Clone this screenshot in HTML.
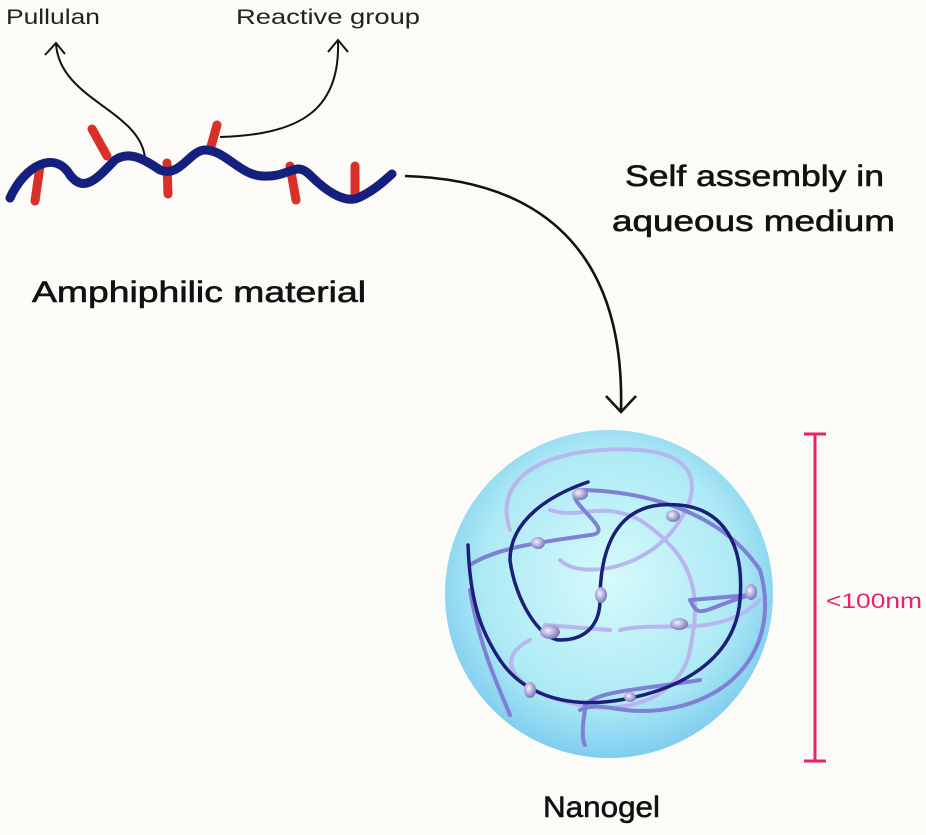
<!DOCTYPE html>
<html><head><style>
body{margin:0;background:#fcfbf7;}
svg{display:block;font-family:"Liberation Sans",sans-serif;}
.t{stroke-width:0.6;}
</style></head><body>
<svg width="926" height="835" viewBox="0 0 926 835">
<defs>
<radialGradient id="g" cx="0.5" cy="0.45" r="0.55">
<stop offset="0" stop-color="#d6fafc"/>
<stop offset="0.7" stop-color="#aeeaf5"/>
<stop offset="1" stop-color="#7fcdef"/>
</radialGradient>
<radialGradient id="b" cx="0.4" cy="0.4" r="0.6">
<stop offset="0" stop-color="#f4f2ff"/>
<stop offset="1" stop-color="#7d78b8"/>
</radialGradient>
</defs>
<rect width="926" height="835" fill="#fcfbf7"/>
<text x="6" y="24" font-size="21" fill="#222" textLength="94" lengthAdjust="spacingAndGlyphs">Pullulan</text>
<text x="236" y="24" font-size="21" fill="#222" textLength="184" lengthAdjust="spacingAndGlyphs">Reactive group</text>
<text class="t" x="625" y="186" font-size="30" fill="#111" stroke="#111" textLength="259" lengthAdjust="spacingAndGlyphs">Self assembly in</text>
<text class="t" x="612" y="231" font-size="30" fill="#111" stroke="#111" textLength="283" lengthAdjust="spacingAndGlyphs">aqueous medium</text>
<text class="t" x="32" y="302" font-size="30" fill="#111" stroke="#111" textLength="334" lengthAdjust="spacingAndGlyphs">Amphiphilic material</text>
<text class="t" x="543" y="817" font-size="30" fill="#111" stroke="#111" textLength="117" lengthAdjust="spacingAndGlyphs">Nanogel</text>
<text x="826" y="608" font-size="21" fill="#e8236a" textLength="96" lengthAdjust="spacingAndGlyphs">&lt;100nm</text>
<g fill="none" stroke="#111" stroke-width="2">
<path d="M145,158 C140,110 60,100 56,44"/>
<path d="M45,55 L56,43 L65,54"/>
<path d="M220,137 C300,135 340,110 338,42"/>
<path d="M328,52 L338,40 L348,52"/>
<path d="M405,176 C540,180 625,250 621,410" stroke-width="2.6"/>
<path d="M606,396 L621,412 L636,396" stroke-width="2.6"/>
</g>
<g stroke="#d9302a" stroke-width="9" stroke-linecap="round">
<line x1="35" y1="201" x2="40" y2="166"/>
<line x1="92" y1="129" x2="107" y2="156"/>
<line x1="167" y1="163" x2="168" y2="194"/>
<line x1="217" y1="125" x2="210" y2="150"/>
<line x1="290" y1="166" x2="296" y2="200"/>
<line x1="355" y1="166" x2="355" y2="195"/>
</g>
<path d="M10,198 C25,165 55,150 70,175 C85,195 100,175 115,160 C130,150 145,160 160,170 C180,178 190,150 205,150 C225,150 240,175 262,176 C290,178 295,160 310,175 C325,190 345,205 360,197 C375,190 385,180 392,174" fill="none" stroke="#15207e" stroke-width="9" stroke-linecap="round"/>
<g stroke="#e8236a" stroke-width="3">
<line x1="815" y1="434" x2="815" y2="761"/>
<line x1="804" y1="434" x2="826" y2="434"/>
<line x1="804" y1="761" x2="826" y2="761"/>
</g>
<circle cx="609" cy="594" r="164" fill="url(#g)"/>
<g fill="none" stroke-linecap="round">
<g stroke="#b7b6ee" stroke-width="4">
<path d="M510,530 C490,470 560,445 640,450 C700,455 700,490 680,520 C650,570 580,580 560,560"/>
<path d="M550,510 C580,520 600,500 640,520 C700,560 700,600 690,650 C680,700 620,720 560,700 C520,690 490,660 530,640"/>
<path d="M620,630 C660,620 720,640 760,600"/>
<path d="M545,625 L610,630"/>
</g>
<g stroke="#7f7fd6" stroke-width="4">
<path d="M470,565 C500,545 560,540 590,535 C620,532 560,500 578,490 C640,490 720,510 760,570 C780,640 740,700 660,710 C620,715 600,700 580,710"/>
<path d="M470,590 C480,650 500,690 510,715"/>
<path d="M585,705 C600,690 640,690 700,680"/>
<path d="M690,600 L750,595 C700,610 700,620 690,600"/>
<path d="M585,710 C580,740 585,745 585,745"/>
</g>
<g stroke="#1c1f78" stroke-width="3.5">
<path d="M588,482 C550,495 510,520 510,560 C515,600 540,640 560,640 C590,640 600,620 600,600 C600,560 610,510 660,505 C720,500 745,540 740,600 C735,660 680,690 620,700 C560,710 520,690 500,660 C480,630 470,600 468,545"/>
</g>
</g>
<g fill="url(#b)">
<ellipse cx="580" cy="494" rx="8" ry="6"/>
<ellipse cx="538" cy="543" rx="7" ry="6"/>
<ellipse cx="673" cy="516" rx="7" ry="6"/>
<ellipse cx="601" cy="595" rx="6" ry="8"/>
<ellipse cx="550" cy="632" rx="10" ry="7"/>
<ellipse cx="679" cy="624" rx="9" ry="6"/>
<ellipse cx="751" cy="592" rx="6" ry="8"/>
<ellipse cx="530" cy="690" rx="6" ry="8"/>
<ellipse cx="630" cy="697" rx="6" ry="5"/>
</g>
</svg>
</body></html>
